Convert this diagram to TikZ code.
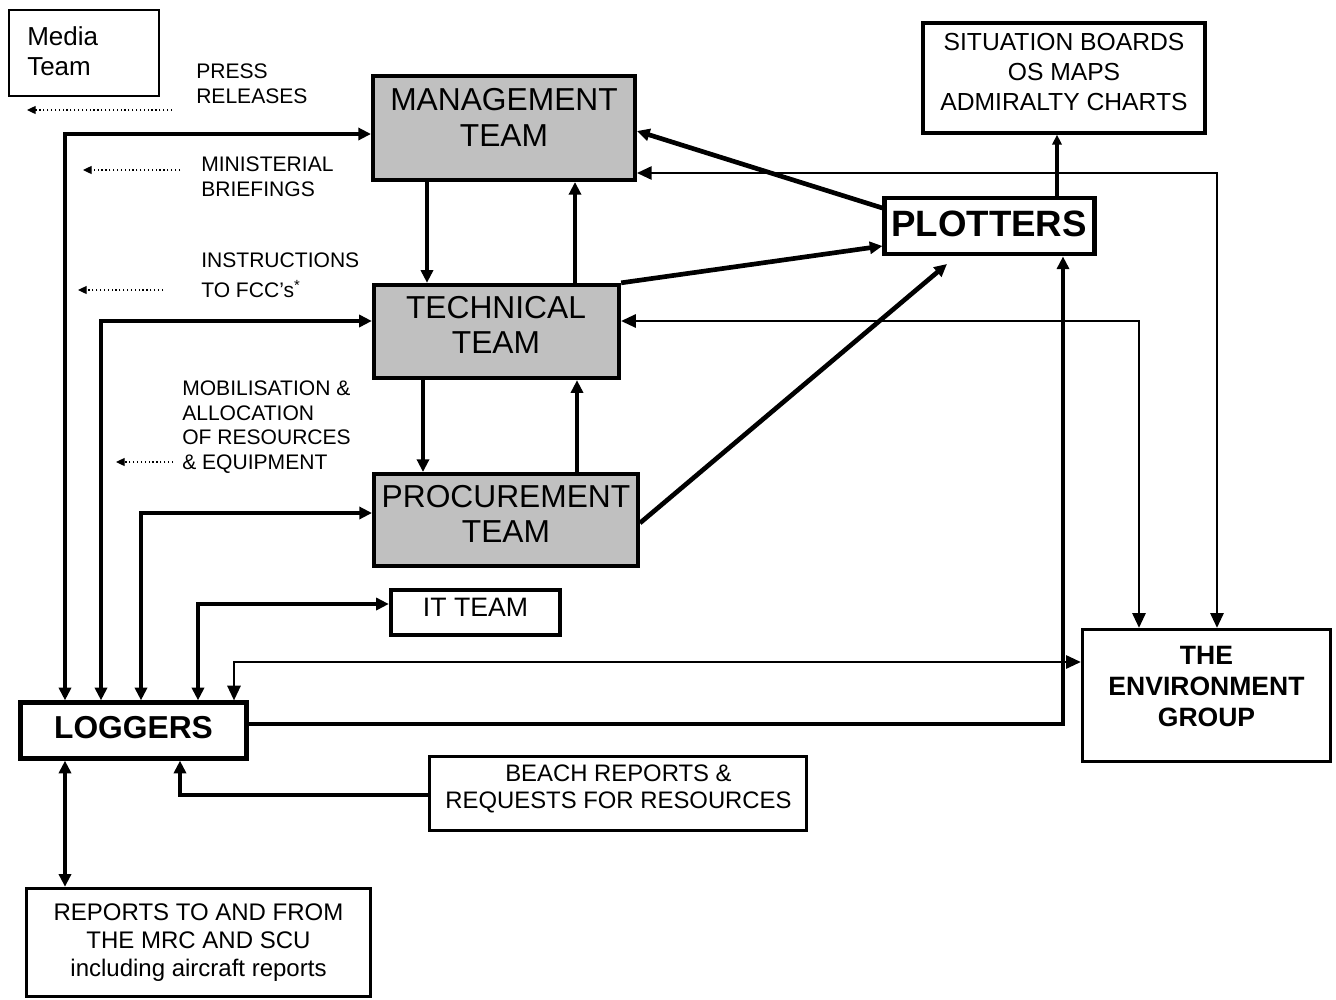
\documentclass[tikz,border=0pt]{standalone}
\usepackage{fontspec}
\setmainfont{Liberation Sans}
\usetikzlibrary{arrows.meta}
\definecolor{boxgrey}{HTML}{C0C0C0}
\begin{document}
\begin{tikzpicture}[x=0.75pt,y=-0.75pt,
  box/.style={draw, line width=3pt, inner sep=0pt},
  greybox/.style={box, fill=boxgrey},
  txt/.style={inner sep=0pt, align=center},
  ltxt/.style={inner sep=0pt, align=left, anchor=west, font=\fontsize{15.8}{18.4}\selectfont},
  thk/.style={line width=3.5pt, >={Triangle[length=9.5pt,width=9pt]}},
  thn/.style={line width=1.3pt, >={Triangle[length=11pt,width=10pt]}},
  dotarrow/.style={line width=0.9pt, dotted, >={Triangle[length=6.5pt,width=6pt]}},
]
\useasboundingbox (0,0) rectangle (1336,1000);

% ---------- boxes ----------
\node[box, line width=1.5pt, minimum width=113pt, minimum height=64.5pt] (media) at (84,52.5) {};
\node[txt, anchor=west, align=left, font=\fontsize{19.5}{22.5}\selectfont] (media-t) at (27,51) {Media\\Team};

\node[greybox, minimum width=196.5pt, minimum height=78pt] (mgmt) at (504,128) {};
\node[txt, font=\fontsize{23.8}{26.6}\selectfont] (mgmt-t) at (504,117.5) {MANAGEMENT\\TEAM};

\node[greybox, minimum width=184pt, minimum height=70pt] (tech) at (496.5,331.5) {};
\node[txt, font=\fontsize{23.8}{26.6}\selectfont] (tech-t) at (496,325) {TECHNICAL\\TEAM};

\node[greybox, minimum width=198pt, minimum height=69pt] (proc) at (506,520) {};
\node[txt, font=\fontsize{23.8}{26.6}\selectfont] (proc-t) at (506,514) {PROCUREMENT\\TEAM};

\node[box, minimum width=212pt, minimum height=82pt] (sit) at (1064,78) {};
\node[txt, font=\fontsize{18.5}{22.5}\selectfont] (sit-t) at (1064,72) {SITUATION BOARDS\\OS MAPS\\ADMIRALTY CHARTS};

\node[box, line width=3.6pt, minimum width=157pt, minimum height=42pt] (plotters) at (989.5,226) {};
\node[txt, font=\bfseries\fontsize{27.5}{30}\selectfont] (plotters-t) at (989,224) {PLOTTERS};

\node[box, minimum width=127pt, minimum height=34pt] (it) at (475.5,612.5) {};
\node[txt, font=\fontsize{20}{24}\selectfont] (it-t) at (475.5,607) {IT TEAM};

\node[box, line width=3.2pt, minimum width=169.5pt, minimum height=42pt] (loggers) at (133.5,730.5) {};
\node[txt, font=\bfseries\fontsize{23.8}{26}\selectfont] (loggers-t) at (133.5,728) {LOGGERS};

\node[box, line width=2.6pt, minimum width=186pt, minimum height=99pt] (env) at (1206.5,695.5) {};
\node[txt, font=\bfseries\fontsize{19.9}{22.9}\selectfont] (env-t) at (1206.5,686.5) {THE\\ENVIRONMENT\\GROUP};

\node[box, line width=2.6pt, minimum width=283pt, minimum height=55.5pt] (beach) at (618,793.5) {};
\node[txt, font=\fontsize{17.9}{20.25}\selectfont] (beach-t) at (618.5,788.5) {BEACH REPORTS \&\\REQUESTS FOR RESOURCES};

\node[box, line width=2.6pt, minimum width=258pt, minimum height=81pt] (reports) at (198.5,942.5) {};
\node[txt, font=\fontsize{18}{21}\selectfont] (reports-t) at (198.5,943) {REPORTS TO AND FROM\\THE MRC AND SCU\\including aircraft reports};

% ---------- side labels ----------
\node[ltxt] (press) at (196,84) {PRESS\\RELEASES};
\node[ltxt] (minist) at (201,177) {MINISTERIAL\\BRIEFINGS};
\node[ltxt] (instr) at (201,275) {INSTRUCTIONS\\[4pt]TO FCC’s\textsuperscript{*}};
\node[ltxt] (mobil) at (182,427) {MOBILISATION \&\\ALLOCATION\\OF RESOURCES\\\& EQUIPMENT};

% ---------- dotted arrows ----------
\coordinate (d1a) at (172,110); \coordinate (d1b) at (27,110);
\coordinate (d2a) at (180,170); \coordinate (d2b) at (83,170);
\coordinate (d3a) at (163,290); \coordinate (d3b) at (78,290);
\coordinate (d4a) at (173,462); \coordinate (d4b) at (116,462);
\draw[dotarrow,->] (d1a) -- (d1b);
\draw[dotarrow,->] (d2a) -- (d2b);
\draw[dotarrow,->] (d3a) -- (d3b);
\draw[dotarrow,->] (d4a) -- (d4b);

% ---------- thick connectors ----------
\draw[thk,<->] (loggers.north -| 65,0) |- (mgmt.west |- 0,134);
\draw[thk,<->] (loggers.north -| 101,0) |- (tech.west |- 0,321);
\draw[thk,<->] (loggers.north -| 141,0) |- (proc.west |- 0,513);
\draw[thk,<->] (loggers.north -| 198,0) |- (it.west |- 0,604);

\draw[thk,->] (loggers.east |- 0,724) -| (plotters.south -| 1063,0);
\draw[thk,->] (beach.west |- 0,795) -| (loggers.south -| 180,0);
\draw[thk,<->] (loggers.south -| 65,0) -- (reports.north -| 65,0);

\draw[thk,->] (mgmt.south -| 427,0) -- (tech.north -| 427,0);
\draw[thk,->] (tech.north -| 575,0) -- (mgmt.south -| 575,0);
\draw[thk,->] (tech.south -| 423,0) -- (proc.north -| 423,0);
\draw[thk,->] (proc.north -| 577,0) -- (tech.south -| 577,0);

\draw[thk,->] (plotters.west |- 0,208) -- (mgmt.east |- 0,131);
\draw[thk,->] (tech.north east) -- (plotters.west |- 0,246);
\coordinate (plin) at (947,264);
\draw[thk,->] (proc.east |- 0,523) -- (plin);
\draw[thk,->,>={Triangle[length=7.5pt,width=7pt]}] (plotters.north -| 1057,0) -- (sit.south -| 1057,0);

% ---------- thin connectors ----------
\draw[thn,<->] (env.west |- 0,662) -| (loggers.north -| 234,0);
\draw[thn,<->] (mgmt.east |- 0,173) -| (env.north -| 1217,0);
\draw[thn,<->] (tech.east |- 0,321) -| (env.north -| 1139,0);
\end{tikzpicture}
\end{document}
